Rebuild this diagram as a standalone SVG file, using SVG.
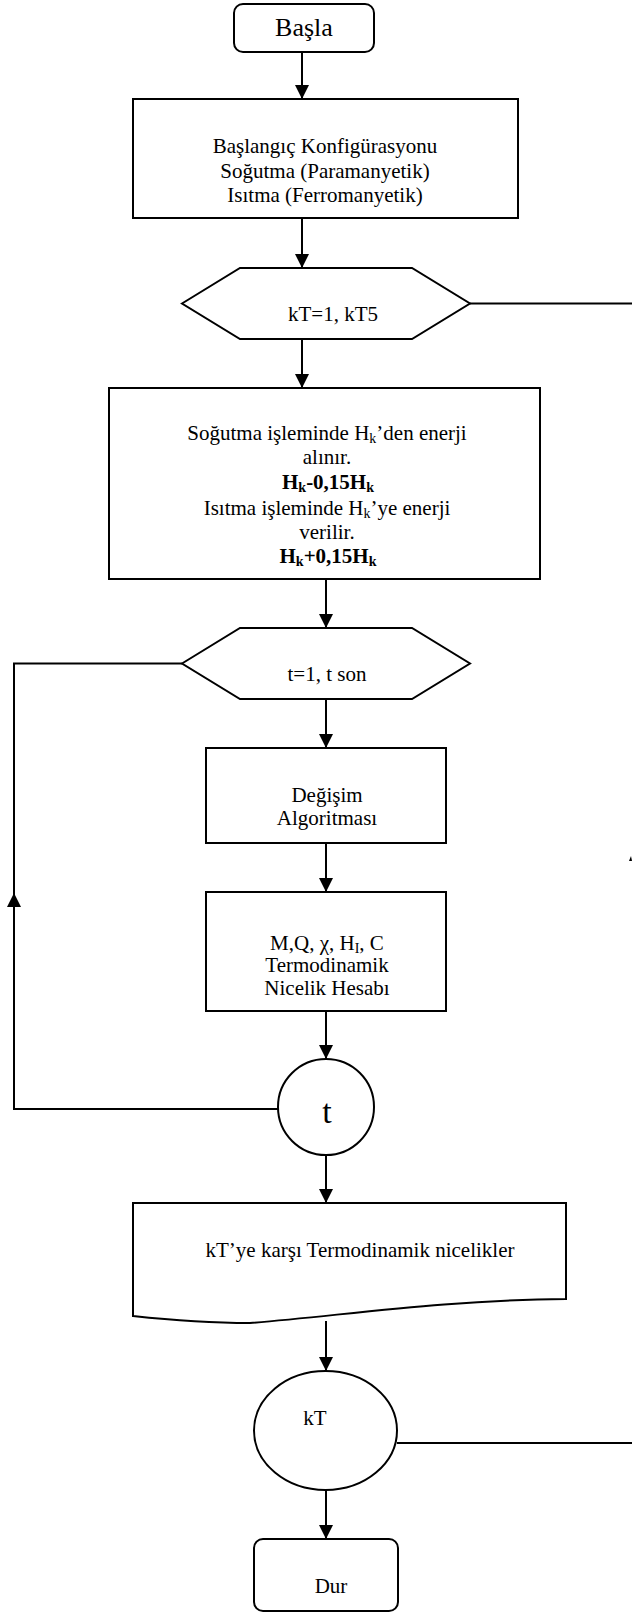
<svg xmlns="http://www.w3.org/2000/svg" width="632" height="1612" viewBox="0 0 632 1612">
<style>
.s{fill:#fff;stroke:#000;stroke-width:2}
.c{fill:none;stroke:#000;stroke-width:2}
.t{font-family:"Liberation Serif","Times New Roman",serif;font-size:21px;fill:#000;text-anchor:middle}
.b{font-weight:bold}
.sub{font-size:14px}
</style>
<defs>
<marker id="ah" markerUnits="userSpaceOnUse" viewBox="0 0 14 14" refX="14" refY="7" markerWidth="14" markerHeight="14" orient="auto">
<path d="M0,0 L14,7 L0,14 Z" fill="#000"/>
</marker>
</defs>
<g id="connectors">
<line class="c" x1="302" y1="52" x2="302" y2="99" marker-end="url(#ah)"/>
<line class="c" x1="302" y1="218" x2="302" y2="268" marker-end="url(#ah)"/>
<line class="c" x1="302" y1="339" x2="302" y2="388" marker-end="url(#ah)"/>
<line class="c" x1="326" y1="579" x2="326" y2="628" marker-end="url(#ah)"/>
<line class="c" x1="326" y1="699" x2="326" y2="748" marker-end="url(#ah)"/>
<line class="c" x1="326" y1="843" x2="326" y2="892" marker-end="url(#ah)"/>
<line class="c" x1="326" y1="1011" x2="326" y2="1059" marker-end="url(#ah)"/>
<line class="c" x1="326" y1="1155" x2="326" y2="1203" marker-end="url(#ah)"/>
<line class="c" x1="326" y1="1321" x2="326" y2="1371" marker-end="url(#ah)"/>
<line class="c" x1="326" y1="1490" x2="326" y2="1539" marker-end="url(#ah)"/>
<path class="c" d="M278,1109 H14 V893" marker-end="url(#ah)"/>
<path class="c" d="M14,893 V663.5 H182"/>
<line class="c" x1="470" y1="303.5" x2="632" y2="303.5"/>
<line class="c" x1="397" y1="1443" x2="632" y2="1443"/>
<path d="M629,861 L631,856 L632,861 Z" fill="#000"/>
</g>
<g id="start">
<rect class="s" x="234" y="4" width="140" height="48" rx="9"/>
<text class="t" x="304" y="36" style="font-size:26px">Başla</text>
</g>
<g id="init">
<rect class="s" x="133" y="99" width="385" height="119"/>
<text class="t" x="325" y="153">Başlangıç Konfigürasyonu</text>
<text class="t" x="325" y="178">Soğutma (Paramanyetik)</text>
<text class="t" x="325" y="202">Isıtma (Ferromanyetik)</text>
</g>
<g id="loopkT">
<polygon class="s" points="182,303.5 240,268 412,268 470,303.5 412,339 240,339"/>
<text class="t" x="333" y="321">kT=1, kT5</text>
</g>
<g id="energy">
<rect class="s" x="109" y="388" width="431" height="191"/>
<text class="t" x="327" y="440">Soğutma işleminde H<tspan class="sub" dy="3">k</tspan><tspan dy="-3">’den enerji</tspan></text>
<text class="t" x="327" y="464">alınır.</text>
<text class="t b" x="328" y="489">H<tspan class="sub" dy="3">k</tspan><tspan dy="-3">-0,15H</tspan><tspan class="sub" dy="3">k</tspan></text>
<text class="t" x="327" y="515">Isıtma işleminde H<tspan class="sub" dy="3">k</tspan><tspan dy="-3">’ye enerji</tspan></text>
<text class="t" x="327" y="539">verilir.</text>
<text class="t b" x="328" y="563">H<tspan class="sub" dy="3">k</tspan><tspan dy="-3">+0,15H</tspan><tspan class="sub" dy="3">k</tspan></text>
</g>
<g id="loopt">
<polygon class="s" points="182,663.5 240,628 412,628 470,663.5 412,699 240,699"/>
<text class="t" x="327" y="681">t=1, t son</text>
</g>
<g id="exchange">
<rect class="s" x="206" y="748" width="240" height="95"/>
<text class="t" x="327" y="802">Değişim</text>
<text class="t" x="327" y="825">Algoritması</text>
</g>
<g id="calc">
<rect class="s" x="206" y="892" width="240" height="119"/>
<text class="t" x="327" y="950">M,Q, χ, H<tspan class="sub" dy="3">I</tspan><tspan dy="-3">, C</tspan></text>
<text class="t" x="327" y="972">Termodinamik</text>
<text class="t" x="327" y="995">Nicelik Hesabı</text>
</g>
<g id="tnode">
<circle class="s" cx="326" cy="1107" r="48"/>
<text class="t" x="327" y="1123" style="font-size:34px">t</text>
</g>
<g id="output">
<path class="s" d="M133,1203 H566 V1299 C440,1300 340,1316 250,1323 C210,1323 170,1320 133,1316 Z"/>
<text class="t" x="360" y="1257">kT’ye karşı Termodinamik nicelikler</text>
</g>
<g id="kTnode">
<ellipse class="s" cx="325.5" cy="1430.5" rx="71.5" ry="59.5"/>
<text class="t" x="315" y="1425">kT</text>
</g>
<g id="stop">
<rect class="s" x="254" y="1539" width="144" height="72" rx="9"/>
<text class="t" x="331" y="1593">Dur</text>
</g>
</svg>
